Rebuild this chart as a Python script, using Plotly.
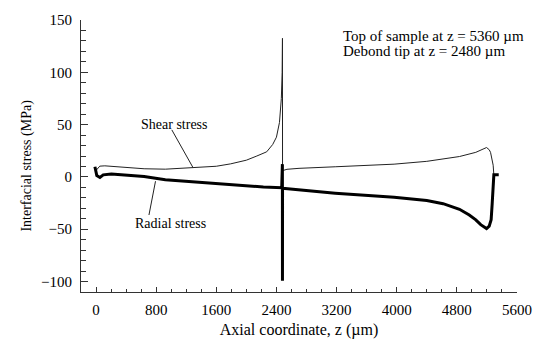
import plotly.graph_objects as go

# Shear stress along the interface (thin line), z in micrometres, stress in MPa
shear_z = [5, 50, 117, 290, 487, 640, 922, 1313, 1600, 1791, 2000, 2139, 2270,
           2350, 2400, 2440, 2465, 2476, 2480, 2481, 2490, 2540, 2700, 3182,
           3965, 4400, 4835, 5052, 5150, 5195, 5230, 5248, 5283, 5292]
shear_v = [6.6, 10.3, 10.6, 9.7, 8.4, 7.8, 7.4, 8.8, 10.2, 12.5, 16, 20, 24,
           31, 38, 52, 75, 100, 132.5, 5.5, 6.2, 7.3, 8.2, 9.7,
           12.2, 14.9, 19.5, 23.5, 27, 28.1, 26, 23.5, 11.2, 2]

# Radial stress along the interface (thick line)
radial_z = [-15, 10, 52, 96, 204, 378, 640, 922, 1356, 1791, 2226, 2470, 2479,
            2480, 2481, 2483, 2550, 3182, 3965, 4400, 4617, 4835, 4965, 5052,
            5117, 5195, 5230, 5256, 5270, 5283, 5292, 5357]
radial_v = [9.7, 1.4, -0.5, 2.0, 2.9, 2.0, 0.5, -2.6, -5.1, -7.2, -9.7, -10.3, 12.2,
            -99.3, -10.5, -10.8, -11.3, -15.5, -19.5, -22.6, -25.6, -30.9, -36.4, -41,
            -45.6, -49.3, -47, -41, -25.6, -7.2, 2, 2]

FONT = "Liberation Serif"

fig = go.Figure()
fig.add_trace(go.Scatter(x=shear_z, y=shear_v, mode="lines",
                         line=dict(color="#222", width=1), name="Shear stress"))
fig.add_trace(go.Scatter(x=radial_z, y=radial_v, mode="lines",
                         line=dict(color="black", width=3), name="Radial stress"))

# Curve labels with leader lines
fig.add_shape(type="line", x0=1008, y0=45, x1=1291, y1=8.8,
              line=dict(color="#222", width=1))
fig.add_shape(type="line", x0=791, y0=-4.1, x1=704, y1=-36.4,
              line=dict(color="#222", width=1))
fig.add_annotation(x=1043, y=50.5, text="Shear stress", showarrow=False,
                   font=dict(family=FONT, size=14, color="black"))
fig.add_annotation(x=987, y=-44.7, text="Radial stress", showarrow=False,
                   font=dict(family=FONT, size=14, color="black"))

fig.add_annotation(x=3261, y=135, xanchor="left", text="Top of sample at z = 5360 µm",
                   showarrow=False, font=dict(family=FONT, size=15, color="black"))
fig.add_annotation(x=3261, y=120.3, xanchor="left", text="Debond tip at z = 2480 µm",
                   showarrow=False, font=dict(family=FONT, size=15, color="black"))

# Vertical axis title
fig.add_annotation(xref="paper", yref="paper", x=-0.124, y=0.4645,
                   xanchor="center", yanchor="middle", textangle=-90,
                   text="Interfacial stress (MPa)", showarrow=False,
                   font=dict(family=FONT, size=14, color="black"))

fig.update_layout(
    width=544, height=347,
    margin=dict(l=81, r=19, t=13, b=52),
    plot_bgcolor="white", paper_bgcolor="white",
    showlegend=False,
    font=dict(family=FONT, size=15, color="black"),
)
fig.update_xaxes(
    range=[-200, 5600], tick0=0, dtick=800,
    ticks="inside", ticklen=5, tickcolor="#333",
    showline=True, linecolor="#333", linewidth=1,
    showgrid=False, zeroline=False,
    minor=dict(dtick=200, tick0=0, ticks="inside", ticklen=3, tickcolor="#333"),
    tickfont=dict(family=FONT, size=15),
    ticklabelstandoff=4,
    title=dict(text="Axial coordinate, z (µm)", font=dict(family=FONT, size=16), standoff=6),
)
fig.update_yaxes(
    range=[-110, 150], tick0=0, dtick=50,
    ticks="inside", ticklen=7, tickcolor="#333",
    showline=True, linecolor="#333", linewidth=1,
    showgrid=False, zeroline=False,
    minor=dict(dtick=10, tick0=0, ticks="inside", ticklen=5, tickcolor="#333"),
    tickfont=dict(family=FONT, size=15),
    ticklabelstandoff=5,
)

fig.write_html("out.html")
